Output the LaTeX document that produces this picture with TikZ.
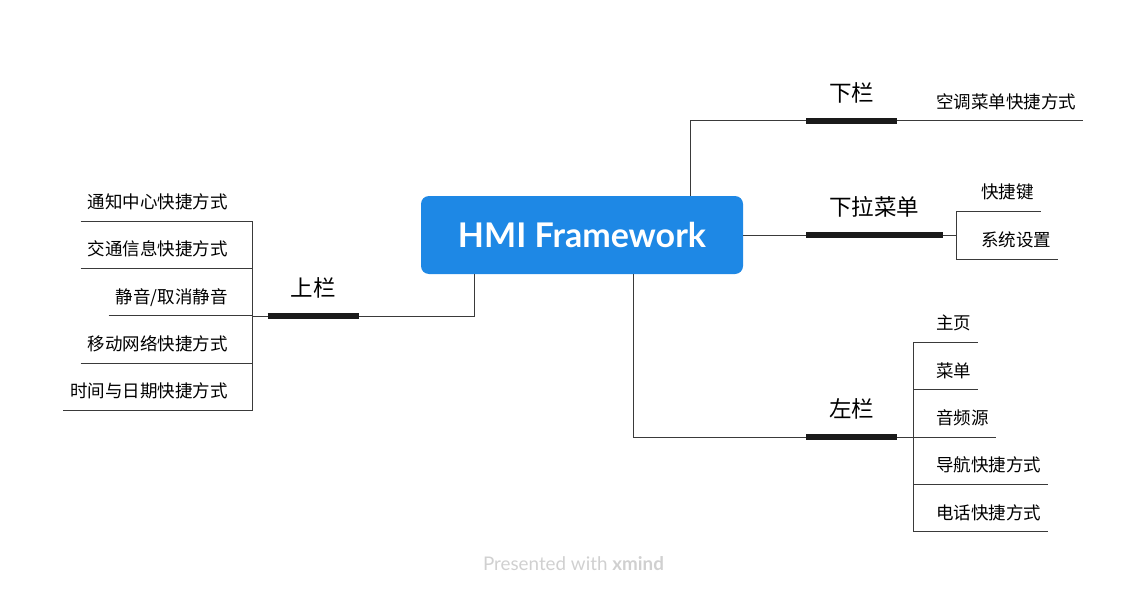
\documentclass[tikz,border=0pt]{standalone}
\usepackage{fontspec}
\setmainfont{Noto Sans CJK SC}
\newfontfamily\latofont{Lato}
\usetikzlibrary{positioning}
\definecolor{rootblue}{HTML}{1E88E5}
\definecolor{linegray}{HTML}{3A3A3A}
\definecolor{bargray}{HTML}{1A1A1A}
\definecolor{footgray}{HTML}{D0D0D0}

\tikzset{
  root/.style={fill=rootblue,rounded corners=8pt,text=white,inner sep=0pt,
    minimum width=322pt,minimum height=78pt,
    font=\latofont\bfseries\fontsize{34}{34}\selectfont},
  topic/.style={inner xsep=23pt,inner ysep=15.5pt,text height=17pt,text depth=4pt,
    font=\fontsize{22.5}{22.5}\selectfont},
  subl/.style={inner xsep=7pt,inner ysep=9.4pt,text height=14pt,text depth=3pt,
    font=\fontsize{17.5}{17.5}\selectfont},
  link/.style={draw=linegray,line width=1pt},
  bar/.style={draw=bargray,line width=6pt},
}

\begin{document}
\begin{tikzpicture}[x=1pt,y=-1pt,node distance=47.35pt]
  \useasboundingbox (0,0) rectangle (1147,596);

  \node[root] (root) at (582,235) {HMI Framework};

  % main topics
  \node[topic,anchor=south west] (xial)     at (806,121) {下栏};
  \node[topic,anchor=south west] (xlcd)     at ([xshift=63pt]root.east) {下拉菜单};
  \node[topic,anchor=south east] (shangl)   at (359,316) {上栏};
  \node[topic,anchor=south west] (zuol)     at (806,437) {左栏};

  % subtopics
  \node[subl,anchor=south west] (kt)   at (929,121) {空调菜单快捷方式};

  \node[subl,anchor=south west] (kjj)  at (974,211) {快捷键};
  \node[subl] (xtsz) [below=48pt of kjj.south west,anchor=south west] {系统设置};

  \node[subl,anchor=south east] (tz)   at (235,221) {通知中心快捷方式};
  \node[subl] (jt)   [below=of tz.south east,anchor=south east] {交通信息快捷方式};
  \node[subl] (jy)   [below=of jt.south east,anchor=south east] {静音/取消静音};
  \node[subl] (yd)   [below=of jy.south east,anchor=south east] {移动网络快捷方式};
  \node[subl] (sj)   [below=of yd.south east,anchor=south east] {时间与日期快捷方式};

  \node[subl,anchor=south west] (zy)   at (929,342.3) {主页};
  \node[subl] (cd)   [below=of zy.south west,anchor=south west] {菜单};
  \node[subl] (ypy)  [below=of cd.south west,anchor=south west] {音频源};
  \node[subl] (dh)   [below=of ypy.south west,anchor=south west] {导航快捷方式};
  \node[subl] (dhua) [below=of dh.south west,anchor=south west] {电话快捷方式};

  % connectors
  \draw[link] ([xshift=108pt]root.north) |- (xial.south west);
  \draw[link] (root.east) -- (xlcd.south west);
  \draw[link] ([xshift=-108pt]root.south) |- (shangl.south east);
  \draw[link] ([xshift=51pt]root.south) |- (zuol.south west);

  \draw[link] (xial.south east) -- (kt.south west);
  \draw[link] (xlcd.south east) -- ++(14,0) coordinate (xlcdf);
  \foreach \n in {kjj,xtsz} \draw[link] (xlcdf) |- (\n.south west);
  \draw[link] (shangl.south west) -- ++(-15,0) coordinate (shanglf);
  \foreach \n in {tz,jt,jy,yd,sj} \draw[link] (shanglf) |- (\n.south east);
  \draw[link] (zuol.south east) -- ++(15.7,0) coordinate (zuolf);
  \foreach \n in {zy,cd,ypy,dh,dhua} \draw[link] (zuolf) |- (\n.south west);

  % underlines
  \foreach \n in {kt,kjj,xtsz,tz,jt,jy,yd,sj,zy,cd,ypy,dh,dhua}
    \draw[link] (\n.south west) -- (\n.south east);
  \foreach \n in {xial,xlcd,shangl,zuol}
    \draw[bar] (\n.south west) -- (\n.south east);

  \node[text=footgray,font=\latofont\fontsize{18.8}{18.8}\selectfont] (foot) at (573.5,564)
    {Presented with \textbf{xmind}};
\end{tikzpicture}
\end{document}
